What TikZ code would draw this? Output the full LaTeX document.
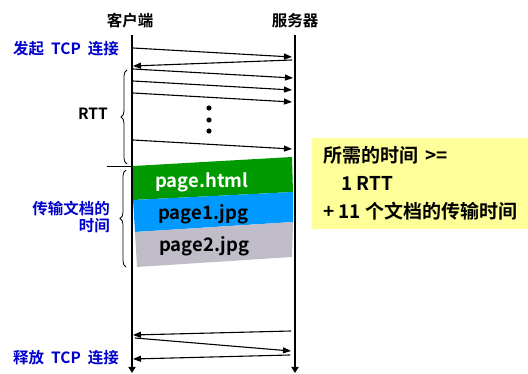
\documentclass[tikz,border=0pt]{standalone}
\usepackage{fontspec}
\setmainfont{Noto Sans CJK SC}[UprightFont=* Bold]
\usetikzlibrary{arrows.meta,decorations.pathreplacing}
\definecolor{lblue}{RGB}{0,0,204}
\definecolor{pgreen}{RGB}{0,153,0}
\definecolor{pblue}{RGB}{0,153,255}
\definecolor{pgrey}{RGB}{192,188,200}
\definecolor{note}{RGB}{255,255,153}
\begin{document}
\begin{tikzpicture}[x=1pt,y=-1pt,
  msg/.style={-{Triangle[length=8pt,width=6pt]}, line width=1.1pt},
  life/.style={line width=2.4pt, -{Triangle[length=6pt,width=7pt]}},
  lbl/.style={inner sep=0pt, font=\fontsize{15.5}{17}\selectfont},
  bluelbl/.style={lbl, text=lblue},
  notetxt/.style={inner sep=0pt, anchor=base west, font=\fontsize{19}{21}\selectfont},
  pagetxt/.style={inner sep=0pt, anchor=base west, font=\fontsize{18.5}{20}\selectfont},
  bracestyle/.style={decorate, decoration={brace, amplitude=6pt}, line width=0.8pt}]
\useasboundingbox (0,0) rectangle (528,374);
% note box
\fill[note] (312,138) rectangle (528,229);
\node[notetxt] (n1) at (323,163) {所需的时间 \,>=};
\node[notetxt] (n2) at (341,191) {1 RTT};
\node[notetxt] (n3) at (323,219) {+ 11 个文档的传输时间};
% page blocks
\fill[pgreen] (133,166) -- (292,157) -- (293,192) -- (133,200) -- cycle;
\fill[pblue] (133,200) -- (293,192) -- (293,222) -- (135,232) -- cycle;
\fill[pgrey] (135,232) -- (293,222) -- (292,257) -- (137,267) -- cycle;
\node[pagetxt, text=white] (p0) at (155,188) {page.html};
\node[pagetxt] (p1) at (158,220) {page1.jpg};
\node[pagetxt] (p2) at (159,252) {page2.jpg};
% headers
\node[lbl, anchor=base] (client) at (130,27) {客户端};
\node[lbl, anchor=base] (server) at (295,27) {服务器};
% lifelines
\coordinate (ct) at (132,35); \coordinate (cb) at (132,373);
\coordinate (st) at (295,35); \coordinate (sb) at (295,373);
\draw[life] (ct) -- (cb);
\draw[life] (st) -- (sb);
% messages
\coordinate (a1) at (133,48);  \coordinate (b1) at (292,57);
\coordinate (a2) at (133,66);  \coordinate (b2) at (292,60);
\coordinate (a3) at (133,69);  \coordinate (b3) at (293,78);
\coordinate (a4) at (133,81);  \coordinate (b4) at (292,90);
\coordinate (a5) at (133,93);  \coordinate (b5) at (292,102);
\coordinate (a6) at (133,140); \coordinate (b6) at (292,149);
\draw[msg] (a1) -- (b1);
\draw[msg] (b2) -- (a2);
\draw[msg] (a3) -- (b3);
\draw[msg] (a4) -- (b4);
\draw[msg] (a5) -- (b5);
\draw[msg] (a6) -- (b6);
\coordinate (d1) at (291,331); \coordinate (e1) at (133,335);
\coordinate (e2) at (135,338); \coordinate (d2) at (291,351);
\coordinate (d3) at (290,355); \coordinate (e3) at (133,359);
\draw[msg] (d1) -- (e1);
\draw[msg] (e2) -- (d2);
\draw[msg] (d3) -- (e3);
% dots
\fill (209,108) circle (2.6);
\fill (209,120) circle (2.6);
\fill (209,131) circle (2.6);
% braces
\coordinate (r1) at (127,164); \coordinate (r2) at (127,70);
\draw[bracestyle] (r1) -- (r2);
\coordinate (t1) at (126,267); \coordinate (t2) at (126,170);
\draw[bracestyle] (t1) -- (t2);
\coordinate (h1) at (107,166); \coordinate (h2) at (132,166);
\draw[line width=0.8pt] (h1) -- (h2);
% labels
\node[lbl, anchor=base west] (rtt) at (78,120) {RTT};
\node[bluelbl, anchor=base west] (open) at (13,55) {发起\hspace{0.45em}TCP\hspace{0.45em}连接};
\node[bluelbl, anchor=base west] (close) at (13,363) {释放\hspace{0.45em}TCP\hspace{0.45em}连接};
\node[bluelbl, anchor=base east] (xfer1) at (110,215) {传输文档的};
\node[bluelbl, anchor=base east] (xfer2) at (110,232) {时间};
\end{tikzpicture}
\end{document}
